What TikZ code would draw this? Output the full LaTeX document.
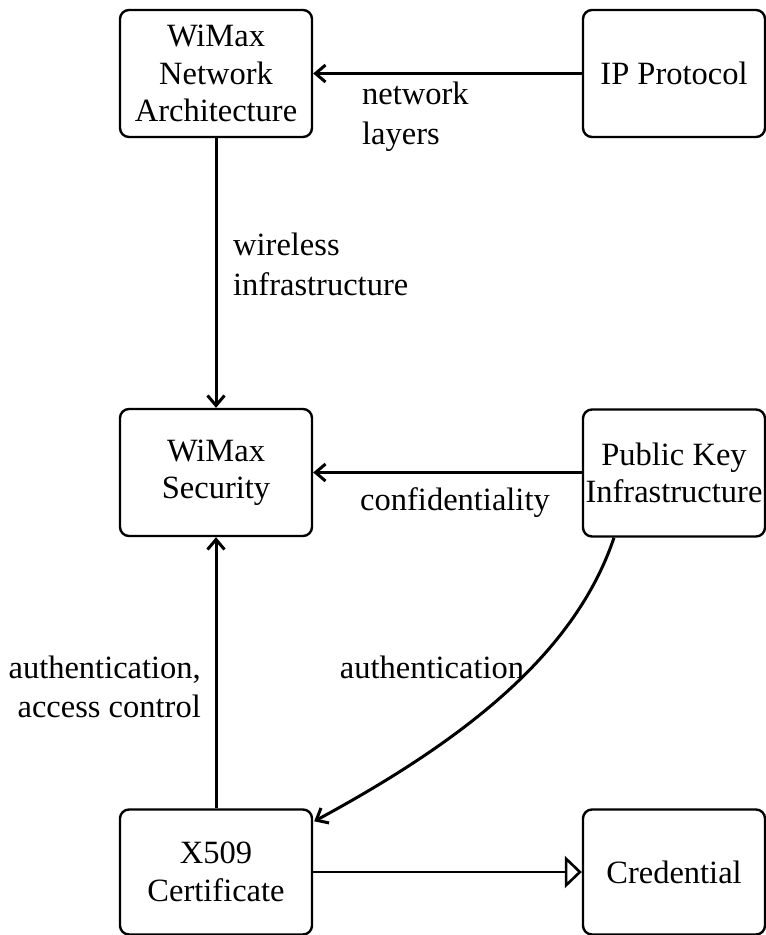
\documentclass[tikz,border=0pt]{standalone}
\usepackage{fontspec}
\setmainfont{Liberation Serif}
\usetikzlibrary{arrows.meta,calc}

\tikzset{
  concept/.style={draw=black, line width=2.4pt, rounded corners=9pt,
    minimum width=192pt, minimum height=127pt, inner sep=0pt,
    align=center, font=\fontsize{32.5}{37.5}\selectfont},
  rel/.style={draw=black, line width=3pt, -{Straight Barb[length=10pt,width=17pt,line width=3pt]}},
  isa/.style={draw=black, line width=2.6pt, -{Triangle[open,length=17pt,width=32pt,line width=2.6pt]}},
  lbl/.style={font=\fontsize{32.5}{39.5}\selectfont, inner sep=0pt}
}

\begin{document}
\begin{tikzpicture}[x=1pt, y=-1pt]
  \useasboundingbox (0,0) rectangle (766,935);

  % concepts
  \node[concept] (arch) at (216,73.5) {WiMax\\Network\\Architecture};
  \node[concept, minimum width=182pt] (ip) at (674,73.5) {IP Protocol};
  \node[concept] (sec) at (216,472.5) {WiMax\\Security};
  \node[concept, minimum width=182pt] (pki) at (674,473) {Public Key\\Infrastructure};
  \node[concept, minimum height=125pt] (cert) at (216,872) {X509\\Certificate};
  \node[concept, minimum width=182pt, minimum height=125pt] (cred) at (674,872) {Credential};

  % relations
  \draw[rel] (ip) -- (arch);
  \node[lbl, anchor=north west, align=left] (l1) at (362,82) {network\\layers};

  \draw[rel] (arch) -- (sec);
  \node[lbl, anchor=north west, align=left] (l2) at (233,233) {wireless\\infrastructure};

  \draw[rel] (pki.west |- sec) -- (sec);
  \node[lbl] (l3) at (455,503) {confidentiality};

  \coordinate (pkiout) at ($(pki.south)+(-60,0)$);
  \coordinate (certin) at ($(cert.north east)+(1,13)$);
  \draw[rel] (pkiout) .. controls (576,650) and (472,736) .. (certin);
  \node[lbl] (l4) at (432,667) {authentication};

  \draw[rel] (cert) -- (sec);
  \node[lbl, anchor=east, align=right] (l5) at (201,687) {authentication,\\access control};

  \draw[isa] (cert.east |- 0,872) -- (cred.west |- 0,872);
\end{tikzpicture}
\end{document}
